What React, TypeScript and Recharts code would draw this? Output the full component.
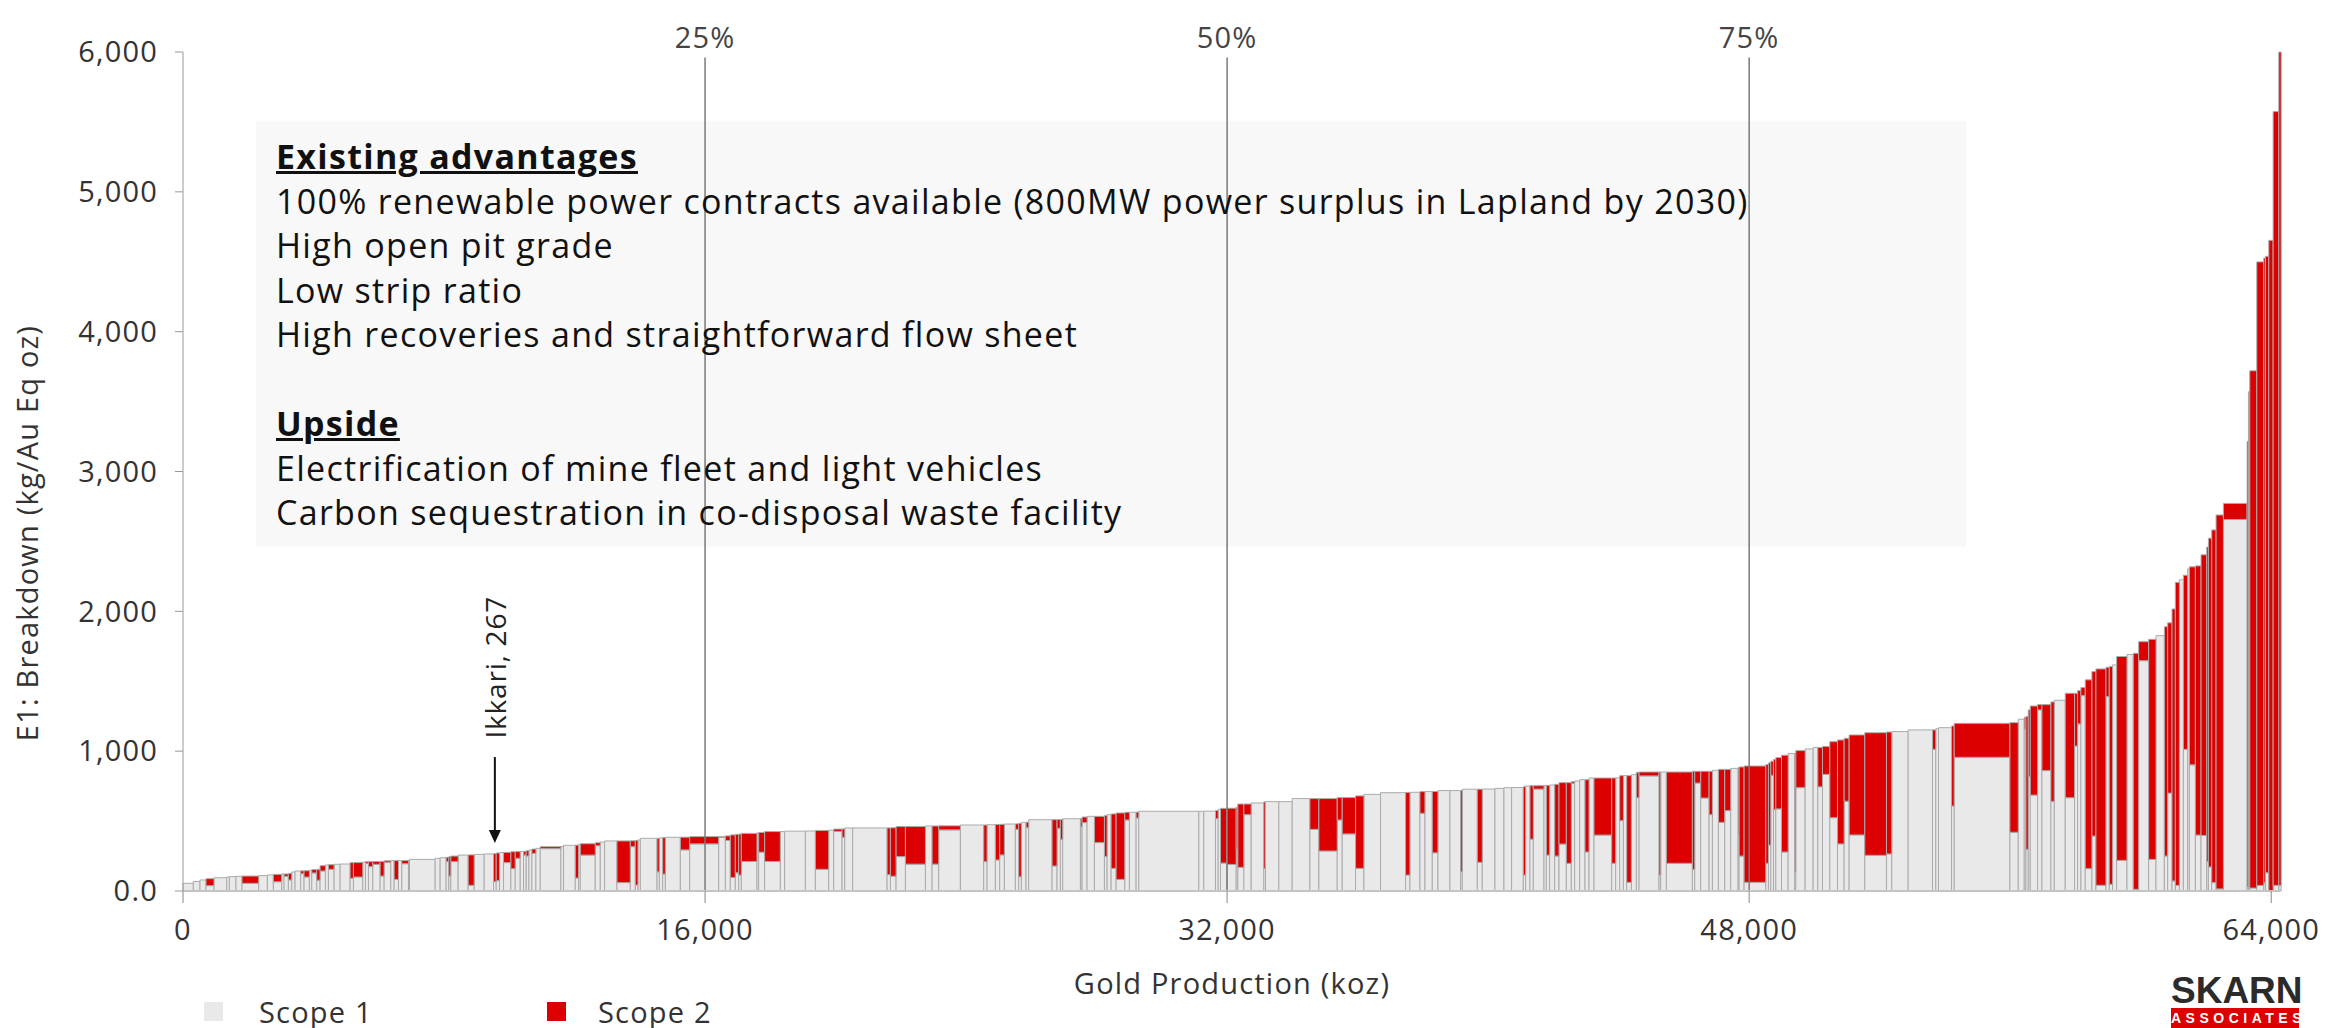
import React from "react";
import {
  ComposedChart,
  Line,
  XAxis,
  YAxis,
  ReferenceArea,
  ReferenceLine,
  ReferenceDot,
} from "recharts";

// production per mine (koz), ordered along the cost curve
const production = [
  317, 204, 184, 245, 388, 82, 204, 184, 511, 266, 184, 256, 72, 133, 102, 102, 174, 102, 164, 72,
  153, 102, 164, 92, 174, 184, 307, 102, 286, 82, 92, 133, 225, 123, 204, 102, 133, 102, 204, 31,
  787, 153, 184, 82, 61, 225, 307, 184, 307, 286, 82, 102, 123, 225, 133, 153, 102, 82, 82, 92,
  123, 133, 634, 82, 358, 102, 51, 460, 153, 133, 378, 409, 153, 82, 72, 511, 72, 102, 82, 460,
  286, 889, 204, 153, 153, 102, 82, 480, 51, 184, 480, 133, 634, 307, 409, 153, 256, 82, 245, 1053,
  102, 174, 286, 613, 204, 204, 664, 715, 102, 255, 133, 143, 337, 102, 82, 143, 82, 715, 153, 102,
  72, 542, 51, 153, 225, 307, 82, 123, 153, 266, 143, 204, 82, 1840, 153, 358, 82, 72, 184, 296,
  51, 184, 225, 388, 51, 409, 409, 542, 276, 562, 153, 409, 256, 511, 766, 133, 307, 153, 225, 174,
  368, 327, 51, 460, 153, 388, 276, 235, 358, 72, 133, 102, 327, 72, 102, 153, 133, 225, 153, 102,
  153, 164, 123, 153, 542, 123, 123, 112, 102, 143, 153, 82, 613, 51, 174, 797, 72, 184, 256, 102,
  184, 194, 184, 225, 31, 153, 664, 82, 72, 82, 72, 174, 204, 204, 31, 286, 245, 143, 143, 225,
  235, 204, 153, 480, 664, 164, 501, 746, 102, 82, 399, 82, 1707, 256, 184, 51, 72, 61, 225, 133,
  276, 102, 337, 286, 92, 102, 133, 204, 123, 307, 102, 102, 123, 317, 194, 164, 307, 225, 256, 102,
  133, 102, 123, 123, 133, 51, 184, 174, 174, 51, 102, 133, 225, 726, 41, 41, 215, 215, 51, 102,
  133, 174, 72,
];

// Scope 1 intensity (kg/Au Eq oz)
const scope1 = [
  55, 68, 79, 38, 95, 100, 103, 105, 55, 110, 115, 66, 122, 105, 79, 136, 143, 124, 100, 148,
  129, 77, 143, 186, 155, 191, 193, 91, 100, 207, 198, 174, 191, 107, 205, 217, 83, 218, 195, 17,
  226, 234, 238, 210, 107, 210, 257, 41, 262, 265, 67, 74, 275, 203, 160, 234, 283, 257, 250, 293,
  269, 305, 303, 319, 327, 93, 333, 257, 324, 350, 358, 60, 317, 43, 365, 377, 137, 380, 121, 384,
  294, 337, 385, 361, 96, 130, 114, 211, 415, 278, 211, 425, 428, 429, 155, 435, 426, 384, 451, 451,
  117, 106, 246, 192, 465, 192, 437, 472, 210, 474, 222, 258, 479, 441, 102, 491, 453, 510, 179, 448,
  370, 517, 460, 489, 534, 346, 246, 546, 162, 83, 508, 563, 522, 570, 570, 571, 517, 584, 200, 190,
  301, 169, 546, 630, 161, 639, 639, 661, 441, 286, 508, 408, 162, 691, 703, 114, 706, 556, 711, 273,
  718, 718, 138, 728, 205, 729, 734, 739, 740, 114, 751, 371, 729, 754, 257, 758, 250, 336, 198, 770,
  787, 796, 279, 808, 400, 198, 809, 503, 825, 62, 832, 667, 823, 114, 851, 198, 155, 772, 665, 546,
  863, 491, 575, 877, 405, 250, 62, 198, 329, 827, 582, 587, 279, 983, 138, 739, 1016, 1027, 745, 834,
  524, 337, 642, 401, 255, 265, 1140, 1152, 1014, 1161, 1168, 608, 956, 420, 1228, 1156, 298, 818, 686, 1295,
  861, 641, 1364, 667, 1037, 1195, 1397, 160, 393, 41, 1390, 48, 1617, 219, 1691, 12, 1647, 226, 1826, 250,
  700, 72, 40, 2226, 1013, 2304, 902, 400, 397, 210, 172, 60, 15, 2657, 30, 30, 21, 40, 60, 130,
  0, 40, 40,
];

// Scope 2 intensity (kg/Au Eq oz)
const scope2 = [
  0, 0, 0, 50, 0, 0, 0, 0, 52, 0, 0, 53, 0, 17, 47, 0, 0, 20, 45, 0,
  24, 78, 38, 0, 33, 0, 0, 112, 104, 0, 12, 36, 20, 105, 11, 0, 134, 0, 23, 202,
  0, 0, 0, 31, 138, 40, 0, 217, 0, 0, 200, 198, 0, 73, 121, 48, 0, 27, 38, 0,
  31, 0, 14, 0, 0, 235, 0, 81, 21, 0, 0, 298, 42, 319, 0, 0, 240, 0, 261, 0,
  91, 52, 5, 33, 305, 275, 293, 201, 0, 141, 214, 0, 0, 0, 278, 0, 17, 60, 0, 0,
  334, 346, 215, 269, 0, 273, 29, 0, 262, 0, 254, 219, 0, 39, 382, 0, 39, 0, 331, 63,
  141, 0, 58, 40, 0, 188, 293, 0, 389, 475, 55, 0, 42, 0, 0, 0, 58, 0, 391, 402,
  298, 453, 76, 0, 476, 0, 0, 0, 220, 375, 160, 260, 518, 0, 0, 591, 0, 155, 0, 439,
  0, 0, 581, 0, 523, 0, 0, 0, 0, 632, 0, 382, 24, 0, 498, 0, 513, 439, 577, 12,
  0, 0, 517, 0, 408, 610, 0, 322, 0, 763, 0, 182, 28, 737, 0, 653, 701, 84, 191, 310,
  0, 379, 295, 0, 477, 637, 832, 706, 587, 101, 358, 367, 692, 0, 845, 265, 0, 0, 282, 200,
  544, 743, 450, 715, 877, 872, 0, 0, 138, 0, 0, 572, 243, 784, 0, 86, 949, 477, 637, 38,
  472, 711, 0, 747, 377, 238, 58, 1350, 1176, 1547, 210, 1557, 0, 1458, 0, 1688, 136, 1574, 0, 1640,
  1218, 1945, 2167, 0, 1245, 0, 1416, 1925, 2007, 2250, 2351, 2522, 2674, 115, 3185, 3540, 3699, 4459, 4467, 4409,
  4653, 5534, 5960,
];

const xTicks = [0, 16000, 32000, 48000, 64000];
const yTicks = [0, 1000, 2000, 3000, 4000, 5000, 6000];
const percentiles = [
  { x: 16000, label: "25%" },
  { x: 32000, label: "50%" },
  { x: 48000, label: "75%" },
];
const ikkariIndex = 50;
const ikkariValue = 267;

const boxLines = [
  { text: "Existing advantages", head: true },
  { text: "100% renewable power contracts available (800MW power surplus in Lapland by 2030)" },
  { text: "High open pit grade" },
  { text: "Low strip ratio" },
  { text: "High recoveries and straightforward flow sheet" },
  { text: "" },
  { text: "Upside", head: true },
  { text: "Electrification of mine fleet and light vehicles" },
  { text: "Carbon sequestration in co-disposal waste facility" },
];

const GREY = "#e9e9e9";
const RED = "#dd0000";
const EDGE = "#ababab";
const AXIS_FONT = { fill: "#333", fontSize: 29, letterSpacing: 1.2 };

// build cumulative positions
let cum = 0;
const rows = production.map((w, i) => {
  const start = cum;
  cum += w;
  return {
    start,
    end: cum,
    mid: start + w / 2,
    s1: scope1[i],
    total: scope1[i] + scope2[i],
  };
});

const ikkariX = rows[ikkariIndex].mid;

const fmt = (v: number) => (v === 0 ? "0.0" : v.toLocaleString("en-US"));

export default function App() {
  return (
    <div
      style={{
        position: "absolute",
        left: 0,
        top: 0,
        width: 2351,
        height: 1028,
        background: "#fff",
        fontFamily: "'Open Sans', sans-serif",
        overflow: "hidden",
      }}
    >
      <ComposedChart
        width={2351}
        height={1028}
        data={rows}
        margin={{ top: 52, right: 70, left: 23, bottom: 77 }}
      >
        <XAxis
          dataKey="mid"
          type="number"
          domain={[0, 64300]}
          ticks={xTicks}
          tickFormatter={(v: number) => v.toLocaleString("en-US")}
          height={60}
          tickSize={12}
          tickMargin={16}
          axisLine={{ stroke: "#c4c4c4", strokeWidth: 2 }}
          tickLine={{ stroke: "#888" }}
          tick={AXIS_FONT}
          allowDataOverflow
          label={{
            value: "Gold Production (koz)",
            position: "bottom",
            offset: 22,
            style: AXIS_FONT,
          }}
        />
        <YAxis
          type="number"
          domain={[0, 6000]}
          ticks={yTicks}
          tickFormatter={fmt}
          width={160}
          tickSize={8}
          tickMargin={17}
          axisLine={{ stroke: "#999" }}
          tickLine={{ stroke: "#999" }}
          tick={AXIS_FONT}
        />

        <ReferenceArea
          x1={2237}
          x2={54650}
          y1={2461}
          y2={5508}
          fill="#f8f8f8"
          fillOpacity={1}
          stroke="none"
          ifOverflow="visible"
        />

        {percentiles.map((p) => (
          <ReferenceLine
            key={p.label}
            segment={[
              { x: p.x, y: 0 },
              { x: p.x, y: 5960 },
            ]}
            stroke="#7a7a7a"
            strokeWidth={1.5}
            ifOverflow="visible"
            label={{ value: p.label, position: "top", offset: 10, ...AXIS_FONT, fill: "#444" }}
          />
        ))}

        {rows.map((r, i) => (
          <ReferenceArea
            key={"g" + i}
            x1={r.start}
            x2={r.end}
            y1={0}
            y2={r.s1}
            fill={GREY}
            fillOpacity={1}
            stroke={EDGE}
            strokeWidth={1}
            ifOverflow="visible"
          />
        ))}
        {rows.map((r, i) =>
          r.total > r.s1 ? (
            <ReferenceArea
              key={"r" + i}
              x1={r.start}
              x2={r.end}
              y1={r.s1}
              y2={r.total}
              fill={RED}
              fillOpacity={1}
              stroke={EDGE}
              strokeWidth={1}
              ifOverflow="visible"
            />
          ) : null
        )}

        <ReferenceLine
          segment={[
            { x: ikkariX, y: 958 },
            { x: ikkariX, y: 380 },
          ]}
          stroke="#111"
          strokeWidth={2}
          ifOverflow="visible"
        />
        <ReferenceDot
          x={ikkariX}
          y={343}
          r={0}
          ifOverflow="visible"
          shape={(p: any) => (
            <path
              d={`M${p.cx},${p.cy} L${p.cx - 6},${p.cy - 13} L${p.cx + 6},${p.cy - 13} Z`}
              fill="#111"
            />
          )}
        />
        <ReferenceDot
          x={ikkariX}
          y={1600}
          r={0}
          ifOverflow="visible"
          shape={(p: any) => (
            <text
              x={p.cx}
              y={p.cy}
              transform={`rotate(-90 ${p.cx} ${p.cy})`}
              textAnchor="middle"
              dominantBaseline="central"
              fontSize={28}
              letterSpacing={0.8}
              fill="#222"
            >
              {`Ikkari, ${ikkariValue}`}
            </text>
          )}
        />

        <Line
          dataKey="total"
          stroke="none"
          dot={false}
          activeDot={false}
          isAnimationActive={false}
          legendType="none"
        />
      </ComposedChart>

      {/* y axis title */}
      <div
        style={{
          position: "absolute",
          left: 27,
          top: 533,
          transform: "translate(-50%, -50%) rotate(-90deg)",
          whiteSpace: "nowrap",
          fontSize: 29,
          letterSpacing: 1.2,
          color: "#333",
          lineHeight: "34px",
        }}
      >
        E1: Breakdown (kg/Au Eq oz)
      </div>

      {/* annotation text inside the grey box */}
      <div
        style={{
          position: "absolute",
          left: 276,
          top: 134,
          fontSize: 34,
          letterSpacing: 1.3,
          lineHeight: "44.5px",
          color: "#111",
          whiteSpace: "pre",
        }}
      >
        {boxLines.map((l, i) => (
          <div
            key={i}
            style={{
              height: 44.5,
              fontWeight: l.head ? 700 : 400,
              textDecoration: l.head ? "underline" : "none",
              textDecorationThickness: l.head ? 3 : undefined,
            }}
          >
            {l.text}
          </div>
        ))}
      </div>

      {/* legend */}
      <div style={{ position: "absolute", left: 204, top: 1002, width: 19, height: 19, background: GREY }} />
      <div style={{ position: "absolute", left: 259, top: 993, fontSize: 29, letterSpacing: 1.2, color: "#333", lineHeight: "38px" }}>
        Scope 1
      </div>
      <div style={{ position: "absolute", left: 547, top: 1002, width: 19, height: 19, background: RED }} />
      <div style={{ position: "absolute", left: 598, top: 993, fontSize: 29, letterSpacing: 1.2, color: "#333", lineHeight: "38px" }}>
        Scope 2
      </div>

      {/* logo */}
      <div style={{ position: "absolute", left: 2171, top: 972, width: 128, fontFamily: "'Liberation Sans', Arial, sans-serif" }}>
        <div style={{ fontSize: 37, fontWeight: 700, color: "#2b2b2b", lineHeight: "37px", textAlign: "center" }}>
          SKARN
        </div>
        <div
          style={{
            background: RED,
            color: "#fff",
            fontSize: 14,
            fontWeight: 700,
            letterSpacing: 4.5,
            height: 20,
            lineHeight: "20px",
            textAlign: "center",
            marginTop: -1,
          }}
        >
          ASSOCIATES
        </div>
      </div>
    </div>
  );
}
